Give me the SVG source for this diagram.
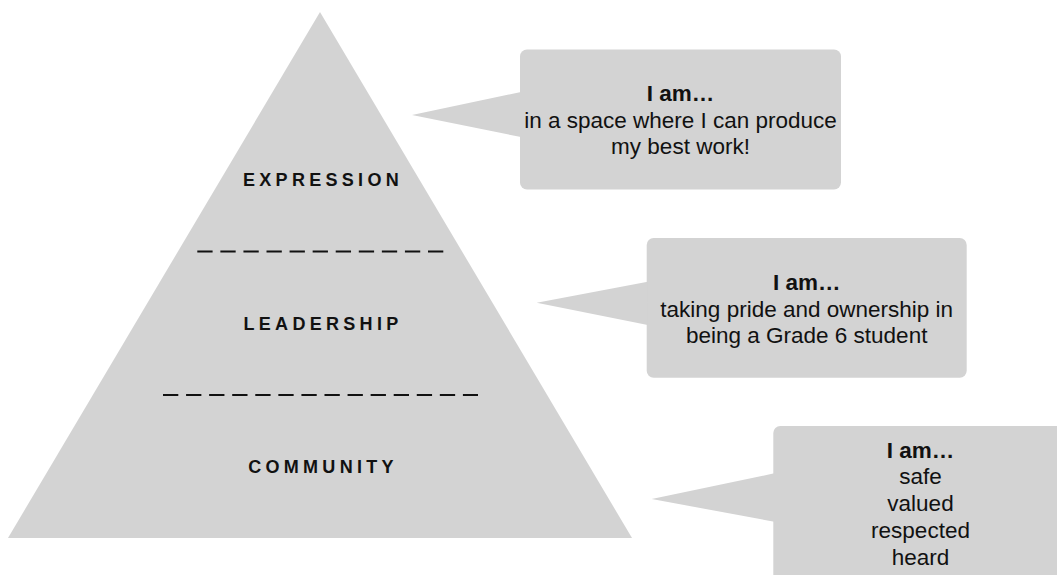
<svg xmlns="http://www.w3.org/2000/svg" width="1057" height="575" viewBox="0 0 1057 575">
  <style>
    .shape { fill: #d3d3d3; stroke: none; }
    .lvl { font-family: "Liberation Sans", Arial, sans-serif; font-weight: bold; font-size: 18px; letter-spacing: 4.3px; fill: #111; text-anchor: middle; }
    .txt { font-family: "Liberation Sans", Arial, sans-serif; font-size: 22.5px; fill: #111; text-anchor: middle; }
    .b { font-weight: bold; }
    .dash { stroke: #111; stroke-width: 2; stroke-dasharray: 15.3 7.77; fill: none; }
  </style>
  <rect width="1057" height="575" fill="#ffffff"/>
  <g id="pyramid">
    <polygon class="shape" points="320,12 632,538 8,538"/>
    <line class="dash" x1="197.3" y1="251.5" x2="443.3" y2="251.5"/>
    <line class="dash" x1="163" y1="395" x2="478" y2="395"/>
    <text class="lvl" x="323" y="186">EXPRESSION</text>
    <text class="lvl" x="323" y="329.5">LEADERSHIP</text>
    <text class="lvl" x="323" y="473">COMMUNITY</text>
  </g>
  <g id="callout-expression">
    <rect class="shape" x="520" y="49.5" width="321" height="140" rx="7"/>
    <polygon class="shape" points="412,115 521,92 521,137"/>
    <text class="txt b" x="680.5" y="101">I am…</text>
    <text class="txt" x="680.5" y="127.5">in a space where I can produce</text>
    <text class="txt" x="680.5" y="154">my best work!</text>
  </g>
  <g id="callout-leadership">
    <rect class="shape" x="646.7" y="238" width="320" height="139.7" rx="7"/>
    <polygon class="shape" points="536.7,302.7 647.7,281.7 647.7,325"/>
    <text class="txt b" x="806.7" y="290">I am…</text>
    <text class="txt" x="806.7" y="316.5">taking pride and ownership in</text>
    <text class="txt" x="806.7" y="343">being a Grade 6 student</text>
  </g>
  <g id="callout-community">
    <rect class="shape" x="773.3" y="426" width="300" height="160" rx="7"/>
    <polygon class="shape" points="651.7,499 774.3,473.3 774.3,521.7"/>
    <text class="txt b" x="920.5" y="457.5">I am…</text>
    <text class="txt" x="920.5" y="484.3">safe</text>
    <text class="txt" x="920.5" y="511.2">valued</text>
    <text class="txt" x="920.5" y="538.1">respected</text>
    <text class="txt" x="920.5" y="565">heard</text>
  </g>
  <g id="connectors"></g>
</svg>
